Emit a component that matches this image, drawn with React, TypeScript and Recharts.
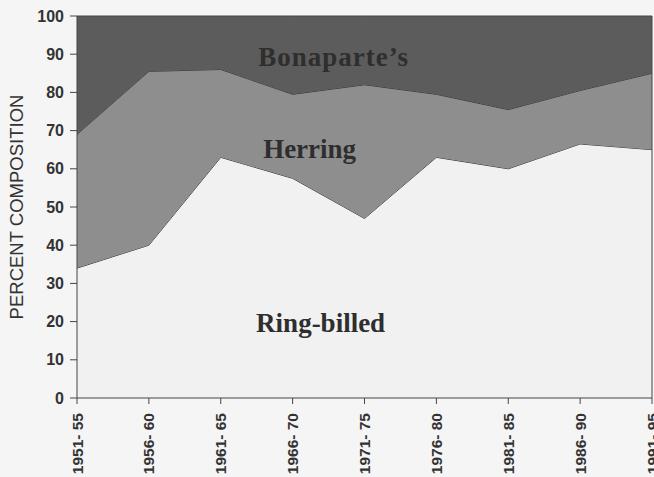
import React from 'react';
import {
  AreaChart,
  Area,
  XAxis,
  YAxis,
  ReferenceDot,
  ReferenceLine,
} from 'recharts';

const periods = [
  '1951- 55', '1956- 60', '1961- 65', '1966- 70', '1971- 75',
  '1976- 80', '1981- 85', '1986- 90', '1991- 95',
];
const ringBilled = [34, 40, 63, 57.5, 47, 63, 60, 66.5, 65];
const herring = [35, 45.5, 23, 22, 35, 16.5, 15.5, 14, 20];
const bonapartes = [31, 14.5, 14, 20.5, 18, 20.5, 24.5, 19.5, 15];
const yTicks = [0, 10, 20, 30, 40, 50, 60, 70, 80, 90, 100];

const data = periods.map((period, i) => ({
  period,
  ringBilled: ringBilled[i],
  herring: herring[i],
  bonapartes: bonapartes[i],
}));

const sans = '"Liberation Sans", Arial, sans-serif';
const serif = '"Liberation Serif", "Times New Roman", serif';

const XTick = (props: any) => {
  const { x, y, payload } = props;
  return (
    <text
      x={x}
      y={y}
      transform={`rotate(-90, ${x}, ${y})`}
      dx={-7}
      dy={5.5}
      textAnchor="end"
      fill="#333"
      fontFamily={sans}
      fontWeight="bold"
      fontSize={15.5}
    >
      {payload.value}
    </text>
  );
};

const areaLabel = (text: string, dx: number, spacing = 0) => (props: any) => {
  const { viewBox } = props;
  return (
    <text
      x={viewBox.x + dx}
      y={viewBox.y}
      textAnchor="middle"
      fill="#2e2e2e"
      fontFamily={serif}
      fontWeight="bold"
      fontSize={27}
      letterSpacing={spacing}
    >
      {text}
    </text>
  );
};

export default function App() {
  return (
    <div style={{ position: 'absolute', left: 0, top: 0, background: '#f5f5f5' }}>
      <AreaChart
        width={654}
        height={477}
        data={data}
        margin={{ top: 16, right: 2, left: 0, bottom: 0 }}
      >
        <XAxis
          dataKey="period"
          height={79}
          tick={<XTick />}
          interval={0}
          stroke="#444"
          tickSize={6}
        />
        <YAxis
          type="number"
          domain={[0, 100]}
          ticks={yTicks}
          width={77}
          stroke="#444"
          tickSize={7}
          tickMargin={6}
          interval={0}
          tick={{ fill: '#333', fontFamily: sans, fontWeight: 'bold', fontSize: 16 }}
          label={{
            value: 'PERCENT COMPOSITION',
            angle: -90,
            position: 'insideLeft',
            offset: 16,
            style: { textAnchor: 'middle', fill: '#333', fontFamily: sans, fontSize: 18.5 },
          }}
        />
        <Area
          type="linear"
          dataKey="ringBilled"
          stackId="a"
          stroke="#333"
          strokeWidth={1}
          fill="#f1f1f1"
          fillOpacity={1}
          isAnimationActive={false}
        />
        <Area
          type="linear"
          dataKey="herring"
          stackId="a"
          stroke="#333"
          strokeWidth={1}
          fill="#8e8e8e"
          fillOpacity={1}
          isAnimationActive={false}
        />
        <Area
          type="linear"
          dataKey="bonapartes"
          stackId="a"
          stroke="#444"
          strokeWidth={1}
          fill="#5c5c5c"
          fillOpacity={1}
          isAnimationActive={false}
        />
        <ReferenceLine x="1991- 95" stroke="#444" />
        <ReferenceDot x="1966- 70" y={86.9} r={0} label={areaLabel("Bonaparte\u2019s", 41, 1)} />
        <ReferenceDot x="1966- 70" y={62.8} r={0} label={areaLabel('Herring', 17)} />
        <ReferenceDot x="1966- 70" y={17.3} r={0} label={areaLabel('Ring-billed', 28)} />
      </AreaChart>
    </div>
  );
}
